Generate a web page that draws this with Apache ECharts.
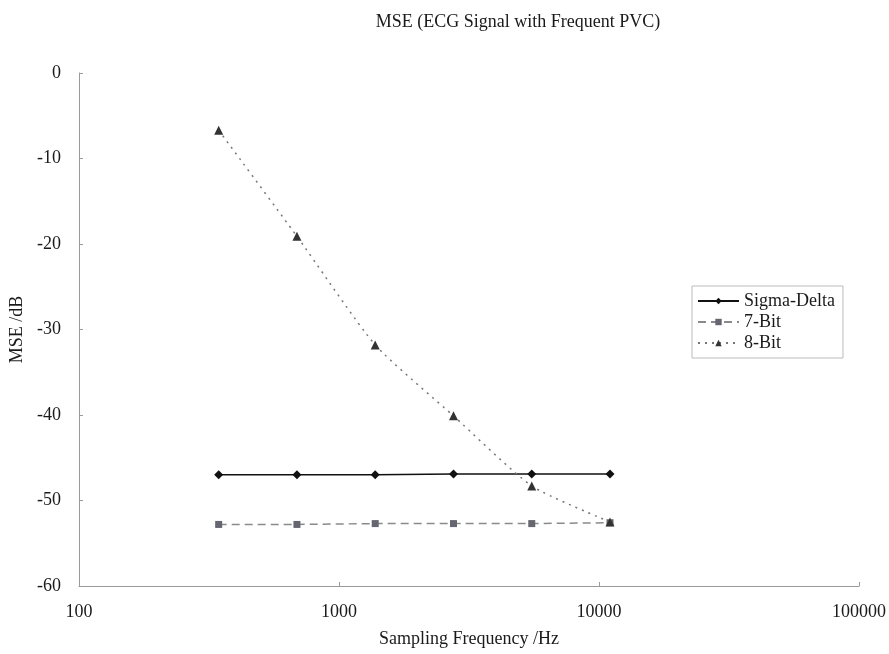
<!DOCTYPE html>
<html>
<head>
<meta charset="utf-8">
<script src="https://cdn.jsdelivr.net/npm/echarts@6/dist/echarts.min.js"></script>
<style>
  html, body { margin: 0; padding: 0; background: #fff; }
  #chart { width: 889px; height: 654px; }
</style>
</head>
<body>
<div id="chart"></div>
<script>
// sampling frequencies (Hz)
const freqs = [344.53, 689.06, 1378.1, 2756.25, 5512.5, 11025];
// MSE values (dB)
const sigmaDelta = [-47.0, -47.0, -47.0, -46.9, -46.9, -46.9];
const bit7 = [-52.8, -52.8, -52.7, -52.7, -52.7, -52.6];
const bit8 = [-6.7, -19.1, -31.8, -40.1, -48.3, -52.5];
const yTicks = [0, -10, -20, -30, -40, -50, -60];

const font = "Liberation Serif";
const textColor = "#1a1a1a";

function pairs(ys) {
  return freqs.map((f, i) => [f, ys[i]]);
}

const chart = echarts.init(document.getElementById("chart"));
chart.setOption({
  backgroundColor: "#fff",
  animation: false,
  title: {
    text: "MSE (ECG Signal with Frequent PVC)",
    left: 513,
    textAlign: "center",
    top: 8,
    textStyle: { fontFamily: font, fontSize: 18, fontWeight: "normal", color: textColor }
  },
  grid: { left: 79, right: 29, top: 73, bottom: 68 },
  legend: {
    orient: "vertical",
    left: 692,
    top: 286,
    padding: [6, 8, 6, 5],
    itemGap: 3,
    itemWidth: 41,
    itemHeight: 8,
    borderColor: "#bbb",
    borderWidth: 1,
    textStyle: { fontFamily: font, fontSize: 18, color: textColor },
    data: ["Sigma-Delta", "7-Bit", "8-Bit"]
  },
  xAxis: {
    type: "log",
    logBase: 10,
    min: 100,
    max: 100000,
    name: "Sampling Frequency /Hz",
    nameLocation: "middle",
    nameGap: 44,
    nameTextStyle: { fontFamily: font, fontSize: 18, color: textColor },
    axisLine: { onZero: false, lineStyle: { color: "#9a9a9a", width: 1 } },
    axisTick: { inside: true, length: 4, lineStyle: { color: "#9a9a9a" } },
    axisLabel: {
      fontFamily: font, fontSize: 18, color: textColor, margin: 17,
      formatter: v => String(Math.round(v))
    },
    splitLine: { show: false },
    minorTick: { show: false }
  },
  yAxis: {
    type: "value",
    min: -60,
    max: 0,
    interval: 10,
    name: "MSE /dB",
    nameLocation: "middle",
    nameGap: 53,
    nameTextStyle: { fontFamily: font, fontSize: 18, color: textColor },
    axisLine: { show: true, lineStyle: { color: "#9a9a9a", width: 1 } },
    axisTick: { show: true, inside: true, length: 4, lineStyle: { color: "#9a9a9a" } },
    axisLabel: {
      fontFamily: font, fontSize: 18, color: textColor, margin: 18,
      formatter: v => yTicks.includes(v) ? String(v) : ""
    },
    splitLine: { show: false }
  },
  series: [
    {
      name: "Sigma-Delta",
      type: "line",
      data: pairs(sigmaDelta),
      symbol: "diamond",
      symbolSize: 9,
      itemStyle: { color: "#111" },
      lineStyle: { color: "#111", width: 1.5, type: "solid" }
    },
    {
      name: "7-Bit",
      type: "line",
      data: pairs(bit7),
      symbol: "rect",
      symbolSize: 7,
      itemStyle: { color: "#666670" },
      lineStyle: { color: "#8a8a8a", width: 1.5, type: [8, 5] }
    },
    {
      name: "8-Bit",
      type: "line",
      smooth: 0.2,
      data: pairs(bit8),
      symbol: "triangle",
      symbolSize: 9,
      itemStyle: { color: "#333" },
      lineStyle: { color: "#777", width: 1.5, type: [2, 5] }
    }
  ]
});
</script>
</body>
</html>
